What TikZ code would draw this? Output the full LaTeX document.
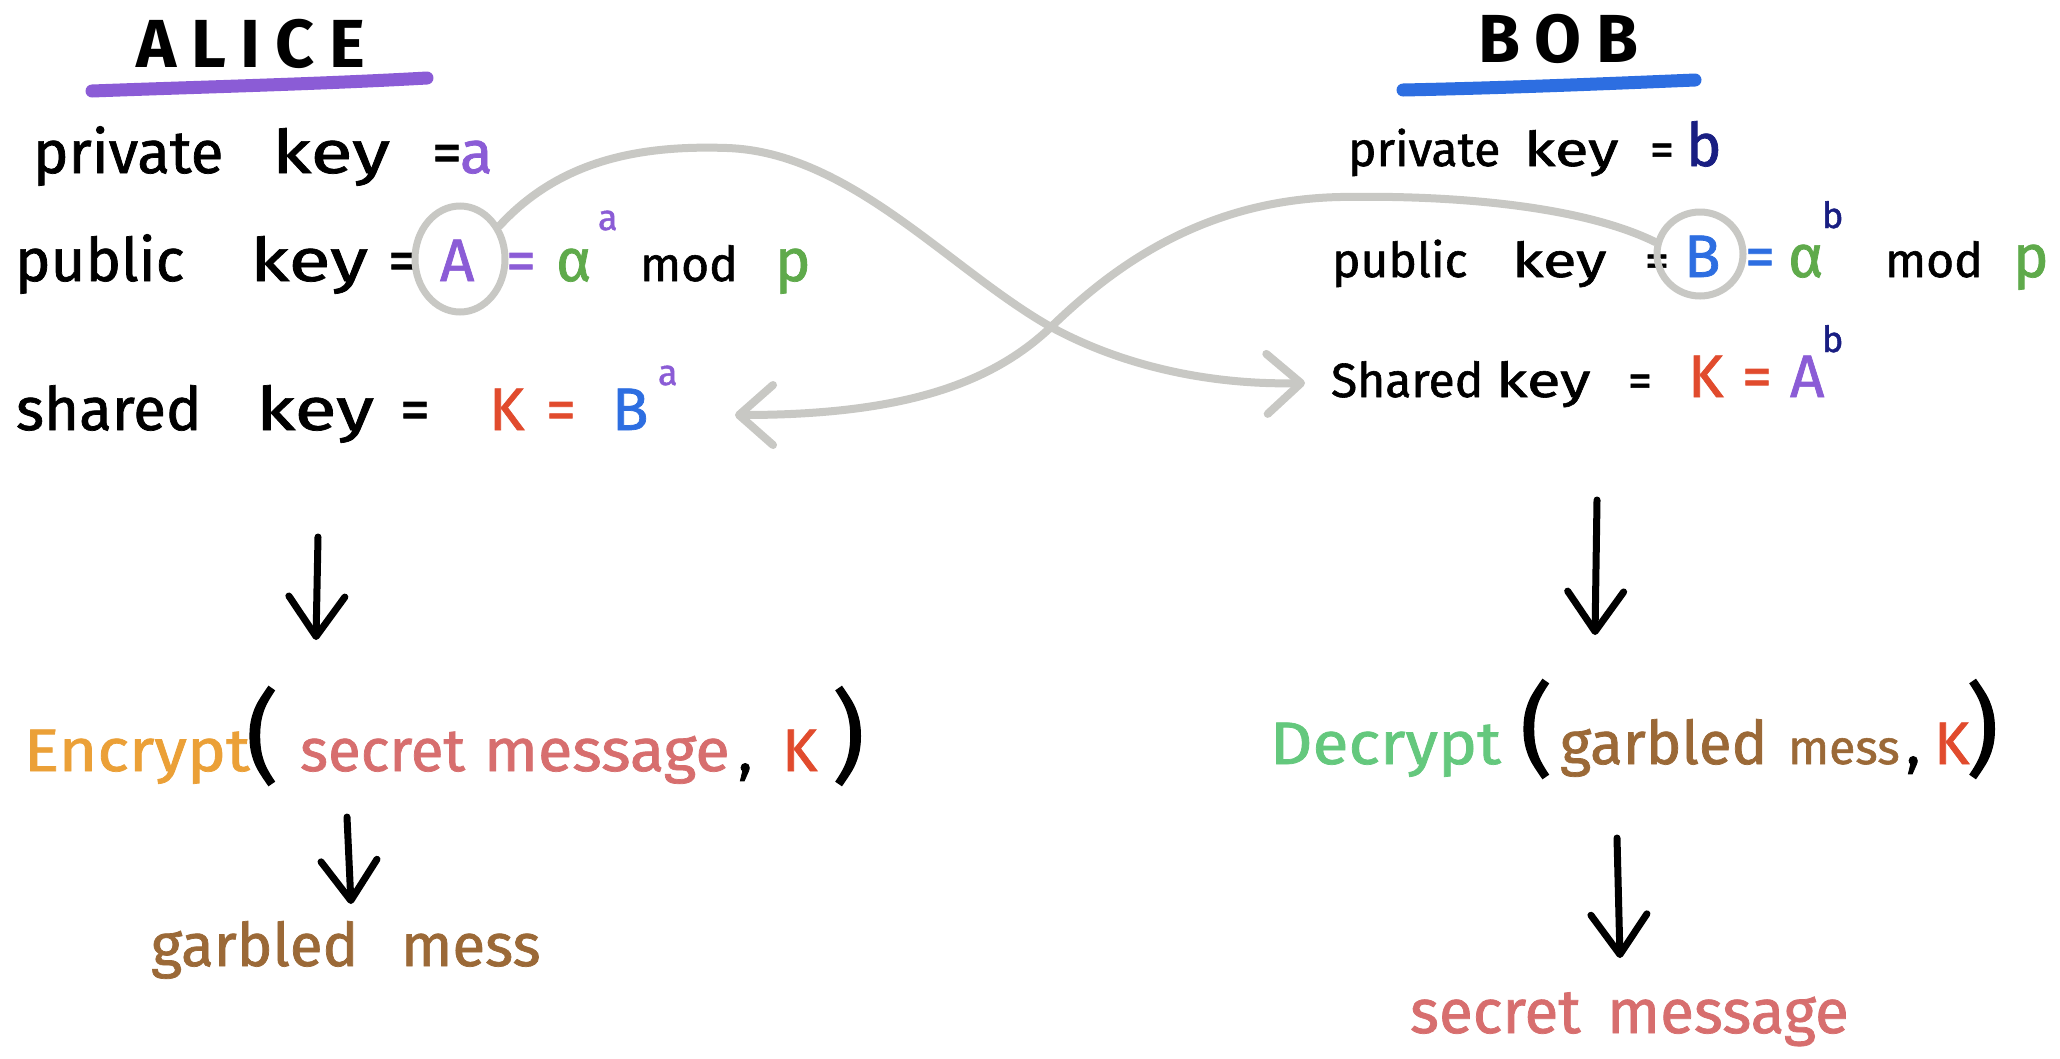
\documentclass[tikz,border=0pt]{standalone}
\usepackage{fontspec}
\usetikzlibrary{arrows.meta,shapes.geometric}
\newfontfamily\hand{Fira Sans}[FakeBold=1.2]
\newfontfamily\titlef{Fira Sans}[LetterSpace=22]
\newcommand{\hkey}{\scalebox{1.28}[1]{key}}
\definecolor{purpleA}{RGB}{139,92,214}
\definecolor{blueB}{RGB}{45,110,225}
\definecolor{greenA}{RGB}{95,170,75}
\definecolor{greenD}{RGB}{100,200,125}
\definecolor{redK}{RGB}{225,75,45}
\definecolor{orangeE}{RGB}{235,160,55}
\definecolor{pinkS}{RGB}{215,110,110}
\definecolor{brownG}{RGB}{155,105,55}
\definecolor{navyB}{RGB}{25,30,130}
\definecolor{grayC}{RGB}{200,200,196}
\tikzset{
  w/.style={anchor=base west, inner sep=0pt, outer sep=0pt, font=\hand\fontsize{60}{60}\selectfont},
  wr/.style={anchor=base west, inner sep=0pt, outer sep=0pt, font=\hand\fontsize{48}{48}\selectfont},
  wm/.style={anchor=base west, inner sep=0pt, outer sep=0pt, font=\hand\fontsize{48}{48}\selectfont},
  wmod/.style={anchor=base west, inner sep=0pt, outer sep=0pt, font=\hand\fontsize{48}{48}\selectfont},
  wb/.style={anchor=base west, inner sep=0pt, outer sep=0pt, font=\hand\fontsize{62}{62}\selectfont},
  sup/.style={anchor=base west, inner sep=0pt, outer sep=0pt, font=\hand\fontsize{36}{36}\selectfont},
  par/.style={anchor=base west, inner sep=0pt, outer sep=0pt, font=\hand\fontsize{100}{100}\selectfont},
  title/.style={anchor=base west, inner sep=0pt, outer sep=0pt, font=\titlef\bfseries\fontsize{68}{68}\selectfont},
  ring/.style={ellipse, draw=grayC, line width=7pt, inner sep=0pt},
  uline/.style={line width=13pt, line cap=round},
  darrow/.style={line width=7pt, line cap=round, -{Straight Barb[length=40pt,width=56pt,line cap=round,round]}},
  garrow/.style={draw=grayC, line width=8pt, line cap=round, -{Straight Barb[length=34pt,width=60pt,line cap=round,round]}}
}
\begin{document}
\begin{tikzpicture}[x=1pt,y=-1pt]
\useasboundingbox (0,0) rectangle (2060,1058);
\fill[white] (0,0) rectangle (2060,1058);

% ---------- ALICE ----------
\node[title] (alice) at (136,67) {ALICE};
\coordinate (auL) at (92,91);
\coordinate (auR) at (427,78);
\draw[uline, purpleA] (auL) .. controls (200,87) and (320,84) .. (auR);

\node[w] (ap1) at (33,173) {private};
\node[w] (ap2) at (272,173) {\hkey};
\node[w] (ap3) at (432,173) {=};
\node[w, text=purpleA] (ap4) at (460,173) {a};

\node[w] (au1) at (15,281) {public};
\node[w] (au2) at (250,281) {\hkey};
\node[w] (au3) at (388,281) {=};
\node[w, text=purpleA] (aA) at (440,281) {A};
\node[w, text=purpleA] (au5) at (506,281) {=};
\node[w, text=greenA] (aalpha) at (556,281) {α};
\node[sup, text=purpleA] (asup1) at (598,230) {a};
\node[wmod] (amod) at (640,281) {mod};
\node[w, text=greenA] (ap) at (775,281) {p};
\node[ring, minimum width=90pt, minimum height=106pt] (Aring) at (460,259) {};

\node[w] (as1) at (16,430) {shared};
\node[w] (as2) at (256,430) {\hkey};
\node[w] (as3) at (400,430) {=};
\node[w, text=redK] (aK) at (489,430) {K};
\node[w, text=redK] (as5) at (546,430) {=};
\node[w, text=blueB] (aB) at (612,430) {B};
\node[sup, text=purpleA] (asup2) at (658,385) {a};

\coordinate (L1s) at (318,537);
\coordinate (L1e) at (316,640);
\draw[darrow] (L1s) -- (L1e);

\node[w, text=orangeE] (enc) at (24,771) {\scalebox{1.1}[1]{Encrypt}};
\node[par] (lp) at (246,771) {(};
\node[w, text=pinkS] (sec) at (300,771) {secret};
\node[w, text=pinkS] (msg) at (484,771) {\scalebox{1.05}[1]{message}};
\node[w] (comma) at (738,771) {,};
\node[w, text=redK] (eK) at (782,771) {K};
\node[par] (rp) at (832,771) {)};

\coordinate (L2s) at (347,817);
\coordinate (L2e) at (351,904);
\draw[darrow] (L2s) -- (L2e);

\node[w, text=brownG] (garb) at (151,966) {garbled};
\node[w, text=brownG] (mess) at (401,966) {mess};

% ---------- BOB ----------
\node[title] (bob) at (1478,62) {BOB};
\coordinate (buL) at (1403,90);
\coordinate (buR) at (1695,80);
\draw[uline, blueB] (buL) .. controls (1500,88) and (1600,84) .. (buR);

\node[wr] (bp1) at (1348,166) {private};
\node[wr] (bp2) at (1524,166) {\hkey};
\node[wr] (bp3) at (1650,166) {=};
\node[w, text=navyB] (bp4) at (1686,166) {b};

\node[wr] (bu1) at (1332,277) {public};
\node[wr] (bu2) at (1512,277) {\hkey};
\node[wr] (bu3) at (1645,277) {=};
\node[w, text=blueB] (bB) at (1684,277) {B};
\node[w, text=blueB] (bu5) at (1745,277) {=};
\node[w, text=greenA] (balpha) at (1788,277) {α};
\node[sup, text=navyB] (bsup1) at (1822,228) {b};
\node[wmod] (bmod) at (1885,277) {mod};
\node[w, text=greenA] (bpp) at (2013,277) {p};
\node[ring, minimum width=86pt, minimum height=84pt] (Bring) at (1700,254) {};

\node[wr] (bs1) at (1331,397) {Shared};
\node[wr] (bs2) at (1496,397) {\hkey};
\node[wr] (bs3) at (1628,397) {=};
\node[w, text=redK] (bK) at (1688,397) {K};
\node[w, text=redK] (bs5) at (1742,397) {=};
\node[w, text=purpleA] (bA) at (1790,397) {A};
\node[sup, text=navyB] (bsup2) at (1822,352) {b};

\coordinate (R1s) at (1597,500);
\coordinate (R1e) at (1595,635);
\draw[darrow] (R1s) -- (R1e);

\node[w, text=greenD] (dec) at (1270,764) {\scalebox{1.1}[1]{Decrypt}};
\node[par] (dlp) at (1520,764) {(};
\node[w, text=brownG] (dg) at (1560,764) {garbled};
\node[wm, text=brownG] (dm) at (1788,764) {mess};
\node[w] (dcomma) at (1906,764) {,};
\node[w, text=redK] (dK) at (1934,764) {K};
\node[par] (drp) at (1966,764) {)};

\coordinate (R2s) at (1617,838);
\coordinate (R2e) at (1620,958);
\draw[darrow] (R2s) -- (R2e);

\node[wb, text=pinkS] (sm1) at (1410,1033) {secret};
\node[wb, text=pinkS] (sm2) at (1607,1033) {message};

% ---------- exchange curves ----------
\coordinate (tipR) at (1305,383);
\coordinate (tipL) at (735,415);
\draw[garrow] (Aring.40) .. controls (560,160) and (640,145) .. (727,148)
  .. controls (850,152) and (950,270) .. (1051,327)
  .. controls (1130,370) and (1220,385) .. (tipR);
\draw[garrow] (Bring.165) .. controls (1580,205) and (1450,195) .. (1340,197)
  .. controls (1200,200) and (1110,270) .. (1051,327)
  .. controls (990,385) and (900,415) .. (tipL);
\end{tikzpicture}
\end{document}
